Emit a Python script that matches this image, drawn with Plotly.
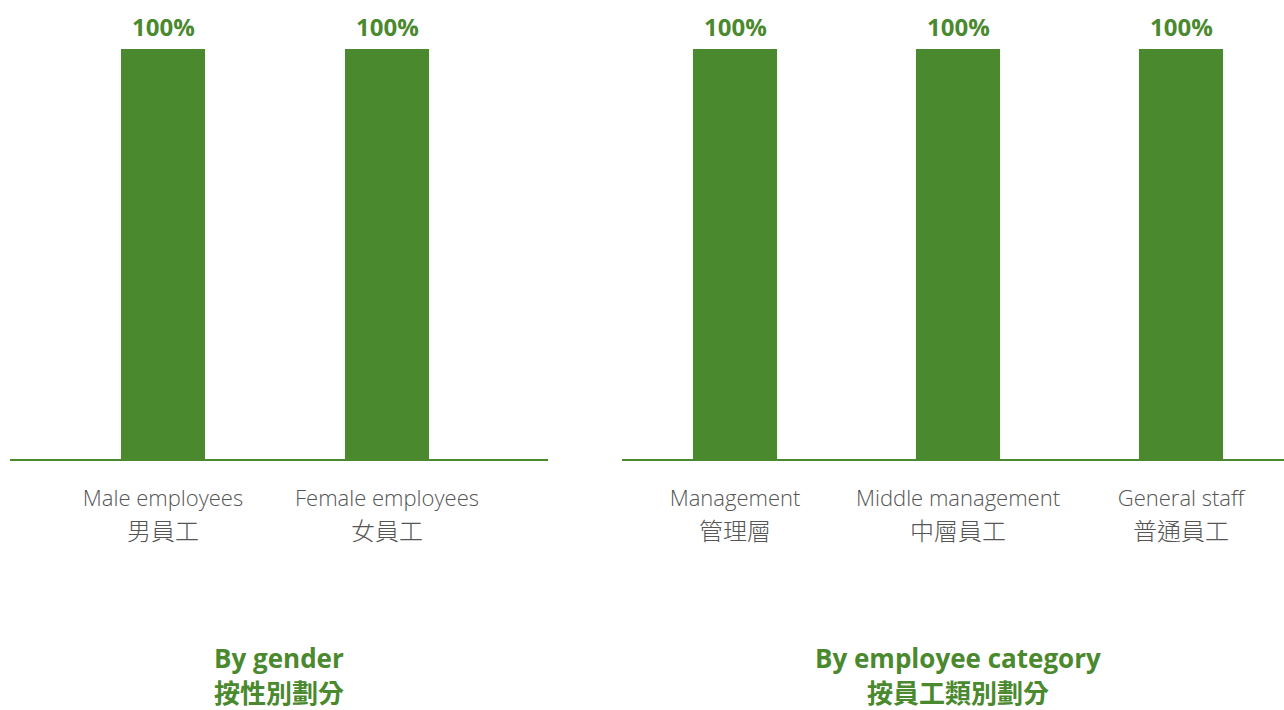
import plotly.graph_objects as go

# ---- data ----
gender_cats = ["Male employees", "Female employees"]
gender_cn = ["男員工", "女員工"]
gender_vals = [100, 100]

cat_cats = ["Management", "Middle management", "General staff"]
cat_cn = ["管理層", "中層員工", "普通員工"]
cat_vals = [100, 100, 100]

titles_en = ["By gender", "By employee category"]
titles_cn = ["按性別劃分", "按員工類別劃分"]

GREEN = "#4a892e"
GRAY = "#555555"
FONT = "Open Sans, Noto Sans CJK TC, sans-serif"
CJK = "Noto Sans CJK TC, sans-serif"

fig = go.Figure()

def add_bars(x, y, xa, width):
    fig.add_trace(go.Bar(
        x=x, y=y, xaxis=xa, yaxis="y", width=width,
        marker=dict(color=GREEN, line=dict(width=0)),
        showlegend=False, hoverinfo="skip",
    ))
    for xi, yi in zip(x, y):
        fig.add_annotation(x=xi, y=yi, xref=xa, yref="y", text=f"{yi:g}%",
                           showarrow=False, yanchor="bottom", xanchor="center", yshift=4,
                           font=dict(family=FONT, size=24, color=GREEN, weight="bold"))

def add_ghost(x, y, xa):
    fig.add_trace(go.Bar(
        x=x, y=y, xaxis=xa, yaxis="y", opacity=0,
        marker=dict(color="rgba(0,0,0,0)", line=dict(width=0)),
        showlegend=False, hoverinfo="skip",
    ))

add_bars(gender_cats, gender_vals, "x", 0.375)
add_bars(cat_cats, cat_vals, "x2", 0.377)
add_ghost(gender_cats, gender_vals, "x3")
add_ghost(cat_cats, cat_vals, "x4")

W, H = 1284, 710
top, bottom = 49, 459
L1, R1 = 10, 548
L2, R2 = 622, 1284

def xr(left, right, c0, step):
    return [(left - c0) / step, (right - c0) / step]

rng1 = xr(L1, R1, 163, 224)
rng2 = xr(L2, R2, 735, 223)

base_axis = dict(type="category", showgrid=False, zeroline=False, ticks="",
                 fixedrange=True)

fig.update_layout(
    width=W, height=H,
    margin=dict(l=0, r=0, t=top, b=H - bottom, autoexpand=False),
    paper_bgcolor="white", plot_bgcolor="white",
    barmode="overlay",
    xaxis=dict(**base_axis, domain=[L1 / W, R1 / W], range=rng1, anchor="y",
               showline=True, linecolor=GREEN, linewidth=2,
               tickfont=dict(family=FONT, size=22, color=GRAY, weight=300),
               ticklabelstandoff=19),
    xaxis2=dict(**base_axis, domain=[L2 / W, 1], range=rng2, anchor="y",
                showline=True, linecolor=GREEN, linewidth=2,
                tickfont=dict(family=FONT, size=22, color=GRAY, weight=300),
                ticklabelstandoff=19),
    xaxis3=dict(**base_axis, overlaying="x", range=rng1, anchor="y", side="bottom",
                showline=False, tickmode="array", tickvals=gender_cats, ticktext=gender_cn,
                tickfont=dict(family=CJK, size=24, color=GRAY, weight=300),
                ticklabelstandoff=56),
    xaxis4=dict(**base_axis, overlaying="x2", range=rng2, anchor="y", side="bottom",
                showline=False, tickmode="array", tickvals=cat_cats, ticktext=cat_cn,
                tickfont=dict(family=CJK, size=24, color=GRAY, weight=300),
                ticklabelstandoff=56),
    yaxis=dict(range=[0, 100], visible=False, fixedrange=True),
)

def py(ypx):
    return (bottom - ypx) / (bottom - top)

centers = [(L1 + R1) / 2 / W, (L2 + R2) / 2 / W + 0.004]
for cx, en, cn in zip(centers, titles_en, titles_cn):
    fig.add_annotation(x=cx, y=py(658), xref="paper", yref="paper",
                       text=en, showarrow=False, yanchor="middle", xanchor="center",
                       borderpad=0,
                       font=dict(family=FONT, size=26, color=GREEN, weight="bold"))
    fig.add_annotation(x=cx, y=py(691), xref="paper", yref="paper",
                       text=cn, showarrow=False, yanchor="middle", xanchor="center",
                       borderpad=0,
                       font=dict(family=CJK, size=26, color=GREEN, weight="bold"))

fig.write_html("out.html", config={"displayModeBar": False},
               post_script="document.body.style.margin='0';")
